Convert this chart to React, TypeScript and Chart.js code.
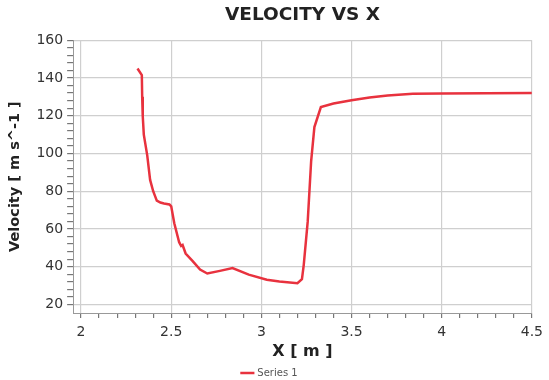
import React, { useEffect, useRef } from "react";
import { Chart, registerables } from "chart.js";

Chart.register(...registerables);

const xValues = [2.313, 2.337, 2.339, 2.342, 2.348, 2.367, 2.383, 2.4, 2.42, 2.44, 2.46, 2.49, 2.5, 2.517, 2.544, 2.555, 2.563, 2.58, 2.619, 2.66, 2.7, 2.77, 2.84, 2.93, 3.03, 3.1, 3.2, 3.225, 3.235, 3.257, 3.276, 3.294, 3.33, 3.4, 3.5, 3.6, 3.7, 3.84, 4.0, 4.25, 4.5];
const velocity = [145, 141.5, 130, 120, 110, 99, 86, 80, 75, 74, 73.5, 73, 72, 63, 53, 51, 51.5, 47, 43, 38.5, 36.4, 37.8, 39.3, 35.8, 33.1, 32.2, 31.3, 33.4, 41, 64, 96, 114, 124.6, 126.5, 128.2, 129.6, 130.7, 131.6, 131.8, 131.9, 132];
const seriesName = "Series 1";
const titleText = "VELOCITY VS X";
const xTitle = "X [ m ]";
const yTitle = "Velocity [ m s^-1 ]";
const xMajorTicks = [2, 2.5, 3, 3.5, 4, 4.5];
const yMajorTicks = [20, 40, 60, 80, 100, 120, 140, 160];

export default function App() {
  const ref = useRef<HTMLCanvasElement>(null);
  useEffect(() => {
    document.body.style.margin = "0";
    const font = "'DejaVu Sans', Verdana, sans-serif";
    const isMajorX = (v: number) => xMajorTicks.some((m) => Math.abs(m - v) < 1e-6);
    const isMajorY = (v: number) => yMajorTicks.some((m) => Math.abs(m - v) < 1e-6);
    const chart = new Chart(ref.current!, {
      type: "line",
      data: {
        datasets: [
          {
            label: seriesName,
            data: xValues.map((x, i) => ({ x, y: velocity[i] })),
            borderColor: "#e8323e",
            backgroundColor: "#e8323e",
            borderWidth: 2.5,
            pointRadius: 0,
            tension: 0,
            fill: false,
          },
        ],
      },
      options: {
        animation: false,
        responsive: false,
        layout: { padding: { left: 7, right: 16, top: 0, bottom: -8 } },
        plugins: {
          title: {
            display: true,
            fullSize: false,
            text: titleText,
            color: "#222",
            font: { family: font, size: 18.5, weight: "bold" },
            padding: { top: 4, bottom: 14 },
          },
          legend: {
            position: "bottom",
            labels: {
              usePointStyle: true,
              pointStyle: "line",
              color: "#555",
              font: { family: font, size: 10 },
              boxWidth: 26,
              padding: 7,
            },
          },
          tooltip: { enabled: false },
        },
        scales: {
          x: {
            type: "linear",
            min: 1.956,
            max: 4.5,
            afterBuildTicks: (scale: any) => {
              const t: any[] = [];
              for (let k = 20; k <= 45; k++) t.push({ value: k / 10 });
              scale.ticks = t;
            },
            ticks: {
              autoSkip: false,
              maxRotation: 0,
              color: "#333",
              font: { family: font, size: 14 },
              padding: 6,
              callback: (v: any) => (isMajorX(Number(v)) ? String(Math.round(Number(v) * 10) / 10) : ""),
            },
            grid: {
              color: (ctx: any) => (ctx.tick && isMajorX(ctx.tick.value) ? "#cfcfcf" : "rgba(0,0,0,0)"),
              tickColor: "#777",
              tickLength: 5,
              lineWidth: 1.2,
            },
            border: { color: "#999", width: 1 },
            title: {
              display: true,
              text: xTitle,
              color: "#222",
              font: { family: font, size: 16, weight: "bold" },
              padding: { top: -5, bottom: 0 },
            },
          },
          y: {
            type: "linear",
            min: 15.5,
            max: 160,
            afterBuildTicks: (scale: any) => {
              const t: any[] = [];
              for (let v = yMajorTicks[0]; v <= yMajorTicks[yMajorTicks.length - 1]; v += 4) t.push({ value: v });
              scale.ticks = t;
            },
            ticks: {
              autoSkip: false,
              color: "#333",
              font: { family: font, size: 14 },
              padding: 4,
              callback: (v: any) => (isMajorY(Number(v)) ? String(v) : ""),
            },
            grid: {
              color: (ctx: any) => (ctx.tick && isMajorY(ctx.tick.value) ? "#cfcfcf" : "rgba(0,0,0,0)"),
              tickColor: "#777",
              tickLength: 6,
              lineWidth: 1.2,
            },
            border: { color: "#999", width: 1 },
            title: {
              display: true,
              text: yTitle,
              color: "#222",
              font: { family: font, size: 14.5, weight: "bold" },
              padding: { top: 0, bottom: 8 },
            },
          },
        },
      },
    } as any);
    return () => chart.destroy();
  }, []);
  return (
    <div style={{ width: 549, height: 380, background: "#fff" }}>
      <canvas ref={ref} width={549} height={380} />
    </div>
  );
}
